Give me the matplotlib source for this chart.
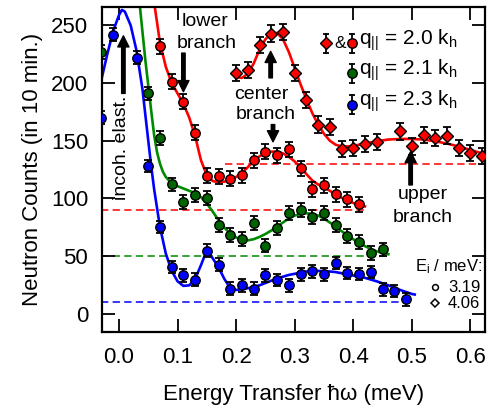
import matplotlib
matplotlib.use("Agg")
import matplotlib.pyplot as plt

plt.rcParams['font.family'] = ['Liberation Sans', 'DejaVu Sans']

# measured points, E_i = 3.19 meV (circles)
x_red = [0.07, 0.09, 0.11, 0.13, 0.15, 0.17, 0.19, 0.21, 0.23, 0.25, 0.27, 0.29,
         0.31, 0.33, 0.35, 0.37, 0.39, 0.41]
y_red = [232, 201, 184, 157, 119.5, 119, 117, 120, 133, 140.5, 137.5, 142.5,
         126, 108, 111.5, 103.5, 99, 95]
x_green = [-0.03, 0.05, 0.07, 0.09, 0.11, 0.13, 0.15, 0.17, 0.19, 0.21, 0.23, 0.25,
           0.27, 0.29, 0.31, 0.33, 0.35, 0.37, 0.39, 0.41, 0.43, 0.45]
y_green = [227, 191, 152, 112, 97, 103, 100, 77, 68, 64.5, 78.5, 59,
           74, 87, 90, 84, 87, 77, 67.5, 62.3, 52.5, 55.6]
x_blue = [-0.03, -0.01, 0.01, 0.03, 0.05, 0.07, 0.09, 0.11, 0.13, 0.15, 0.17, 0.19,
          0.21, 0.23, 0.25, 0.27, 0.29, 0.31, 0.33, 0.35, 0.37, 0.39, 0.41, 0.43,
          0.45, 0.47, 0.49]
y_blue = [170, 242, 274, 222, 128, 75, 40.5, 33.3, 29.5, 54.5, 42.5, 21.5,
          24.6, 21.7, 33.3, 29, 24.6, 34, 36.5, 34, 44, 35.3, 34.2, 36,
          21, 19.5, 12.4]
# E_i = 4.06 meV (diamonds), q = 2.0
x_dia = [0.20, 0.22, 0.24, 0.26, 0.28, 0.30, 0.32, 0.34, 0.36, 0.38, 0.40, 0.42,
         0.44, 0.48, 0.50, 0.52, 0.54, 0.56, 0.58, 0.60, 0.62]
y_dia = [209, 211.5, 233, 243, 244, 209, 185.5, 164, 162, 142.5, 143.5, 147.5,
         148.5, 158, 145, 155, 152.5, 154.5, 143.5, 139, 137]
err_red, err_green, err_blue, err_dia = 6.5, 6.0, 5.5, 7.0

# fit curves
fx_red = [0.060, 0.070, 0.080, 0.090, 0.100, 0.110, 0.120, 0.130, 0.140, 0.150,
          0.160, 0.170, 0.180, 0.190, 0.200, 0.210, 0.220, 0.230, 0.240, 0.250,
          0.260, 0.270, 0.280, 0.290, 0.300, 0.310, 0.320, 0.330, 0.340, 0.350,
          0.360, 0.370, 0.380, 0.390, 0.400, 0.410, 0.420]
fy_red = [270, 235, 214, 200, 191, 182, 170, 154, 133, 120,
          115, 114, 114.5, 116, 118.5, 122, 127, 132.5, 136.5, 139,
          140.5, 140.5, 139, 136, 132, 127, 121, 115.5, 112, 109.5,
          106.5, 103.5, 100.5, 98, 96, 94.5, 93]
fx_dia = [0.200, 0.210, 0.220, 0.230, 0.240, 0.250, 0.260, 0.270, 0.280, 0.290,
          0.300, 0.310, 0.320, 0.330, 0.340, 0.350, 0.360, 0.370, 0.380, 0.390,
          0.400, 0.420, 0.440, 0.460, 0.480, 0.500, 0.520, 0.540, 0.560, 0.580,
          0.600, 0.620, 0.630]
fy_dia = [205, 204.5, 208, 217, 229, 238, 243, 243.5, 238, 227,
          213, 199, 186, 174, 164, 156, 150, 146.5, 145, 145,
          145.5, 147.5, 149.5, 151, 151.5, 151.5, 151, 149.5, 147.5, 145,
          142, 139, 138]
fx_green = [0.035, 0.040, 0.045, 0.050, 0.055, 0.060, 0.065, 0.070, 0.075, 0.080,
            0.090, 0.100, 0.110, 0.120, 0.130, 0.140, 0.150, 0.160, 0.170, 0.180,
            0.190, 0.200, 0.210, 0.220, 0.230, 0.240, 0.250, 0.260, 0.270, 0.280,
            0.290, 0.300, 0.310, 0.320, 0.330, 0.340, 0.350, 0.360, 0.370, 0.380,
            0.390, 0.400, 0.410, 0.420, 0.430, 0.440, 0.450, 0.460]
fy_green = [270, 245, 220, 198, 176, 155, 140, 130, 123, 118.5,
            113, 110.5, 108.5, 106.5, 104.5, 101, 95.5, 88.5, 81, 74.5,
            69.5, 66, 64, 63.5, 64.5, 66.5, 69, 72, 75.5, 79,
            82.5, 85, 86.5, 87, 86.5, 85, 82.5, 79, 75.5, 71.5,
            68, 64.5, 61.5, 58.5, 56, 54, 52.5, 51.5]
fx_blue = [-0.030, -0.020, -0.010, 0.000, 0.005, 0.010, 0.020, 0.030, 0.040, 0.050,
           0.055, 0.060, 0.070, 0.080, 0.090, 0.100, 0.110, 0.120, 0.130, 0.140,
           0.150, 0.160, 0.170, 0.180, 0.190, 0.200, 0.210, 0.220, 0.230, 0.240,
           0.250, 0.260, 0.270, 0.280, 0.290, 0.300, 0.310, 0.320, 0.330, 0.340,
           0.350, 0.360, 0.370, 0.380, 0.390, 0.400, 0.420, 0.440, 0.460, 0.480,
           0.500, 0.505]
fy_blue = [203, 225, 245, 259, 263.5, 262, 250, 228, 195, 150,
           128, 108, 75, 52, 37, 28, 24, 24.5, 30, 42,
           55, 48, 40, 30, 22, 20.5, 21, 22, 23, 24.5,
           26.5, 28.5, 30.5, 32, 33.5, 34.5, 35.5, 36.5, 37, 37,
           36.8, 36.5, 36, 35, 34, 33, 31, 28, 24.5, 20.5,
           17, 16.5]

# constant backgrounds: (level, x from, x to)
bg_red_hi = (130, 0.181, 0.63)
bg_red_lo = (90, -0.03, 0.423)
bg_green = (50, -0.03, 0.459)
bg_blue = (10, -0.03, 0.502)

RED, GREEN, BLUE = '#ff0000', '#008a00', '#0000ff'
GREEN_FILL = '#006400'

fig = plt.figure(figsize=(4.88, 4.08), dpi=100)
ax = fig.add_axes([102 / 488, (408 - 332) / 408, (485 - 102) / 488, (332 - 7) / 408])

for lvl, xa, xb, c in [(*bg_red_hi, RED), (*bg_red_lo, RED), (*bg_green, GREEN), (*bg_blue, BLUE)]:
    ax.plot([xa, xb], [lvl, lvl], color=c, lw=1.1, dashes=(4.8, 2.8), zorder=1)

ax.plot(fx_red, fy_red, color=RED, lw=1.9, zorder=2)
ax.plot(fx_dia, fy_dia, color=RED, lw=1.9, zorder=2)
ax.plot(fx_green, fy_green, color=GREEN, lw=1.9, zorder=2)
ax.plot(fx_blue, fy_blue, color=BLUE, lw=1.9, zorder=2)


def points(x, y, err, fill, marker, ms):
    ax.errorbar(x, y, yerr=err, fmt='none', ecolor='black', elinewidth=1.3,
                capsize=2.6, capthick=1.3, zorder=3)
    ax.plot(x, y, ls='none', marker=marker, ms=ms, mfc=fill, mec='black',
            mew=1.0, zorder=4)


points(x_red, y_red, err_red, RED, 'o', 6.8)
points(x_dia, y_dia, err_dia, RED, 'D', 6.0)
points(x_green, y_green, err_green, GREEN_FILL, 'o', 6.8)
points(x_blue, y_blue, err_blue, BLUE, 'o', 6.8)

ax.set_xlim(-0.029, 0.625)
ax.set_ylim(-16, 266)
ax.set_xticks([0.0, 0.1, 0.2, 0.3, 0.4, 0.5, 0.6])
ax.set_xticklabels(['0.0', '0.1', '0.2', '0.3', '0.4', '0.5', '0.6'])
ax.set_yticks([0, 50, 100, 150, 200, 250])
ax.tick_params(direction='in', length=9.5, width=1.3, top=True, right=True,
               labelsize=16)
ax.tick_params(axis='x', pad=10.5)
ax.tick_params(axis='y', pad=10)
for s in ax.spines.values():
    s.set_linewidth(1.6)

ax.set_xlabel('Energy Transfer ħω (meV)', fontsize=16, labelpad=11.5)
ax.set_ylabel('Neutron Counts (in 10 min.)', fontsize=16, labelpad=6)

# arrows and labels
arr = dict(facecolor='black', edgecolor='black', width=2.5, headwidth=8,
           headlength=8, shrink=0)
for tip, tail in [((0.0075, 241), (0.0075, 191)),
                  ((0.110, 192.5), (0.110, 226)),
                  ((0.259, 227.5), (0.259, 204.5)),
                  ((0.263, 149), (0.263, 164)),
                  ((0.498, 140.5), (0.498, 111.6))]:
    ax.annotate('', xy=tip, xytext=tail, arrowprops=arr)

fs = 14
ax.text(0.005, 143.5, 'incoh. elast.', rotation=90, ha='center', va='center', fontsize=fs)
ax.text(0.1476, 249.8, 'lower', ha='center', va='baseline', fontsize=fs)
ax.text(0.150, 230.4, 'branch', ha='center', va='baseline', fontsize=fs)
ax.text(0.2436, 186.3, 'center', ha='center', va='baseline', fontsize=fs)
ax.text(0.2505, 169, 'branch', ha='center', va='baseline', fontsize=fs)
ax.text(0.518, 99.1, 'upper', ha='center', va='baseline', fontsize=fs)
ax.text(0.518, 79.7, 'branch', ha='center', va='baseline', fontsize=fs)

# legend (axes fraction coordinates)
T = ax.transAxes


def leg_mark(x, y, fill, marker, ms):
    h = 0.03
    ax.plot([x, x], [y - h, y + h], color='black', lw=1.3, transform=T, clip_on=False)
    ax.plot([x, x], [y - h, y + h], ls='none', marker='_', ms=5, mew=1.3,
            color='black', transform=T, clip_on=False)
    ax.plot([x], [y], ls='none', marker=marker, ms=ms, mfc=fill, mec='black',
            mew=1.0, transform=T, clip_on=False)


leg_fs = 15
leg_rows = [(0.888, RED, r'q$\mathregular{_{||}}$ = 2.0 k$\mathregular{_h}$'),
            (0.796, GREEN_FILL, r'q$\mathregular{_{||}}$ = 2.1 k$\mathregular{_h}$'),
            (0.700, BLUE, r'q$\mathregular{_{||}}$ = 2.3 k$\mathregular{_h}$')]
leg_mark(0.585, leg_rows[0][0], RED, 'D', 6.0)
ax.text(0.622, leg_rows[0][0], '&', ha='center', va='center', fontsize=12.5, transform=T)
for y, c, label in leg_rows:
    leg_mark(0.654, y, c, 'o', 6.8)
    ax.text(0.672, y + 0.01, label, ha='left', va='center', fontsize=leg_fs, transform=T)

ax.text(0.817, 0.20, r'E$\mathregular{_i}$ / meV:', ha='left', va='center', fontsize=12, transform=T)
ax.plot([0.869], [0.138], ls='none', marker='o', ms=4.2, mfc='white', mec='black', mew=1.1, transform=T)
ax.text(0.903, 0.138, '3.19', ha='left', va='center', fontsize=12, transform=T)
ax.plot([0.869], [0.089], ls='none', marker='D', ms=4.0, mfc='white', mec='black', mew=1.1, transform=T)
ax.text(0.903, 0.089, '4.06', ha='left', va='center', fontsize=12, transform=T)

fig.savefig('out.png', dpi=100)
